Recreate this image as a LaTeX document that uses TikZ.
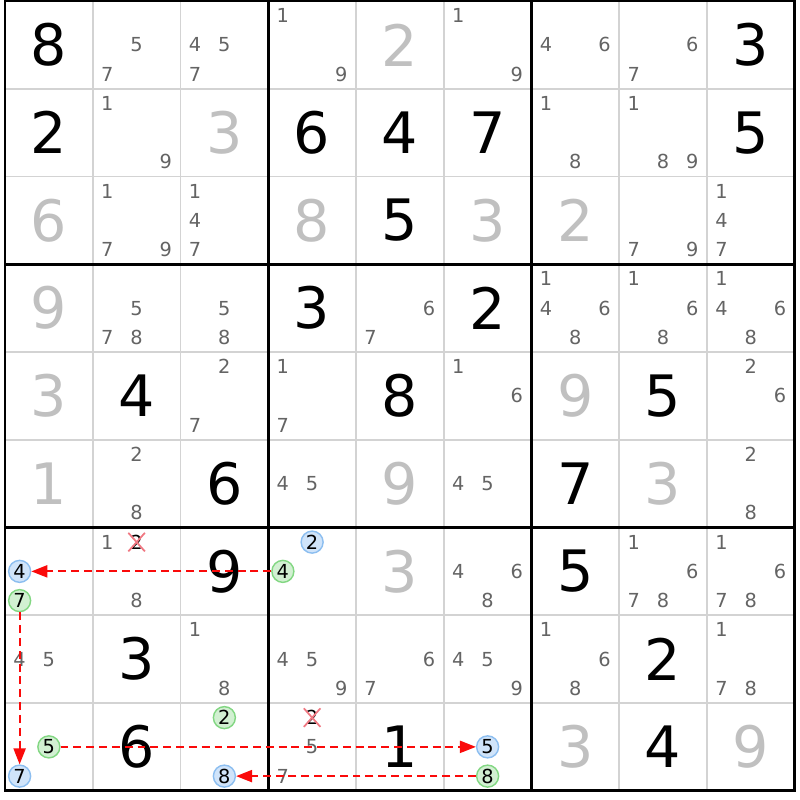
\documentclass[tikz,border=0pt]{standalone}
\usepackage{fontspec}
\setmainfont{DejaVu Sans}
\usetikzlibrary{arrows.meta}

\definecolor{gridgray}{RGB}{211,211,211}
\definecolor{givengray}{RGB}{192,192,192}
\definecolor{candgray}{RGB}{100,100,100}
\definecolor{bluefill}{RGB}{208,228,250}
\definecolor{blueline}{RGB}{140,190,240}
\definecolor{greenfill}{RGB}{210,240,210}
\definecolor{greenline}{RGB}{130,215,130}
\definecolor{linkred}{RGB}{250,10,10}
\definecolor{strikered}{RGB}{240,120,130}

\begin{document}
\begin{tikzpicture}
[
    x=1.755cm, y=-1.755cm,
    thinline/.style={draw=gridgray, line width=1.1pt},
    thickline/.style={draw=black, line width=1.7pt},
    solved/.style={font=\fontsize{32.5}{33}\selectfont, text=black, inner sep=0pt},
    given/.style={solved, text=givengray},
    cand/.style={font=\fontsize{11}{12}\selectfont, text=candgray, inner sep=1pt},
    onmark/.style={cand, circle, inner sep=0pt, minimum size=0.44cm, text=black, draw=blueline, fill=bluefill, line width=0.8pt},
    offmark/.style={onmark, draw=greenline, fill=greenfill},
    crossed/.style={cand, text=black},
    strike/.style={color=strikered, line width=1pt},
    linkarrow/.style={color=linkred, line width=1.2pt, dash pattern=on 4.5pt off 2.8pt, -{Triangle[length=0.32cm, width=0.24cm]}},
]
\path[use as bounding box, fill=white] (-0.057,-0.0114) rectangle (9.060,9.105);

\foreach \r in {1,...,9}
  \foreach \c in {1,...,9}
  {
    \coordinate (m-\r-\c) at (\c-0.5,\r-0.5);
    \foreach \d in {1,...,9}
      \coordinate (p-\r-\c-\d) at ({\c-0.5+(mod(\d-1,3)-1)/3},{\r-0.5+(int((\d-1)/3)-1)/3});
  }

\foreach \i in {1,2,4,5,7,8}
{
  \draw[thinline] (\i,0) -- (\i,9);
  \draw[thinline] (0,\i) -- (9,\i);
}
\foreach \i in {3,6}
{
  \draw[thickline] (\i,0) -- (\i,9);
  \draw[thickline] (0,\i) -- (9,\i);
}
\draw[thickline] (0,0) rectangle (9,9);

\foreach \r/\c/\v in {1/1/8, 1/9/3, 2/1/2, 2/4/6, 2/5/4, 2/6/7, 2/9/5, 3/5/5, 4/4/3, 4/6/2,
    5/2/4, 5/5/8, 5/8/5, 6/3/6, 6/7/7, 7/3/9, 7/7/5, 8/2/3, 8/8/2, 9/2/6, 9/5/1, 9/8/4}
  \node[solved] (cell-\r-\c) at (m-\r-\c) {\v};
\foreach \r/\c/\v in {1/5/2, 2/3/3, 3/1/6, 3/4/8, 3/6/3, 3/7/2, 4/1/9, 5/1/3, 5/7/9, 6/1/1,
    6/5/9, 6/8/3, 7/5/3, 9/7/3, 9/9/9}
  \node[given] (cell-\r-\c) at (m-\r-\c) {\v};

\foreach \r/\c/\ds in {1/2/{5,7}, 1/3/{4,5,7}, 1/4/{1,9}, 1/6/{1,9}, 1/7/{4,6}, 1/8/{6,7},
    2/2/{1,9}, 2/7/{1,8}, 2/8/{1,8,9},
    3/2/{1,7,9}, 3/3/{1,4,7}, 3/8/{7,9}, 3/9/{1,4,7},
    4/2/{5,7,8}, 4/3/{5,8}, 4/5/{6,7}, 4/7/{1,4,6,8}, 4/8/{1,6,8}, 4/9/{1,4,6,8},
    5/3/{2,7}, 5/4/{1,7}, 5/6/{1,6}, 5/9/{2,6},
    6/2/{2,8}, 6/4/{4,5}, 6/6/{4,5}, 6/9/{2,8},
    7/2/{1,8}, 7/6/{4,6,8}, 7/8/{1,6,7,8}, 7/9/{1,6,7,8},
    8/1/{4,5}, 8/3/{1,8}, 8/4/{4,5,9}, 8/5/{6,7}, 8/6/{4,5,9}, 8/7/{1,6,8}, 8/9/{1,7,8},
    9/4/{5,7}}
  \foreach \d in \ds
    \node[cand] (cand-\r-\c-\d) at (p-\r-\c-\d) {\d};

\node[onmark] (cand-7-1-4) at (p-7-1-4) {4};
\node[offmark] (cand-7-1-7) at (p-7-1-7) {7};
\node[onmark] (cand-7-4-2) at (p-7-4-2) {2};
\node[offmark] (cand-7-4-4) at (p-7-4-4) {4};
\node[offmark] (cand-9-1-5) at (p-9-1-5) {5};
\node[onmark] (cand-9-1-7) at (p-9-1-7) {7};
\node[offmark] (cand-9-3-2) at (p-9-3-2) {2};
\node[onmark] (cand-9-3-8) at (p-9-3-8) {8};
\node[onmark] (cand-9-6-5) at (p-9-6-5) {5};
\node[offmark] (cand-9-6-8) at (p-9-6-8) {8};

\node[crossed] (cand-7-2-2) at (p-7-2-2) {2};
\node[crossed] (cand-9-4-2) at (p-9-4-2) {2};
\draw[strike] (cand-7-2-2.south west) -- (cand-7-2-2.north east)
    (cand-7-2-2.north west) -- (cand-7-2-2.south east);
\draw[strike] (cand-9-4-2.south west) -- (cand-9-4-2.north east)
    (cand-9-4-2.north west) -- (cand-9-4-2.south east);

\draw[linkarrow] (cand-7-4-4) -- (cand-7-1-4);
\draw[linkarrow] (cand-7-1-7) -- (cand-9-1-7);
\draw[linkarrow] (cand-9-1-5) -- (cand-9-6-5);
\draw[linkarrow] (cand-9-6-8) -- (cand-9-3-8);
\end{tikzpicture}
\end{document}
